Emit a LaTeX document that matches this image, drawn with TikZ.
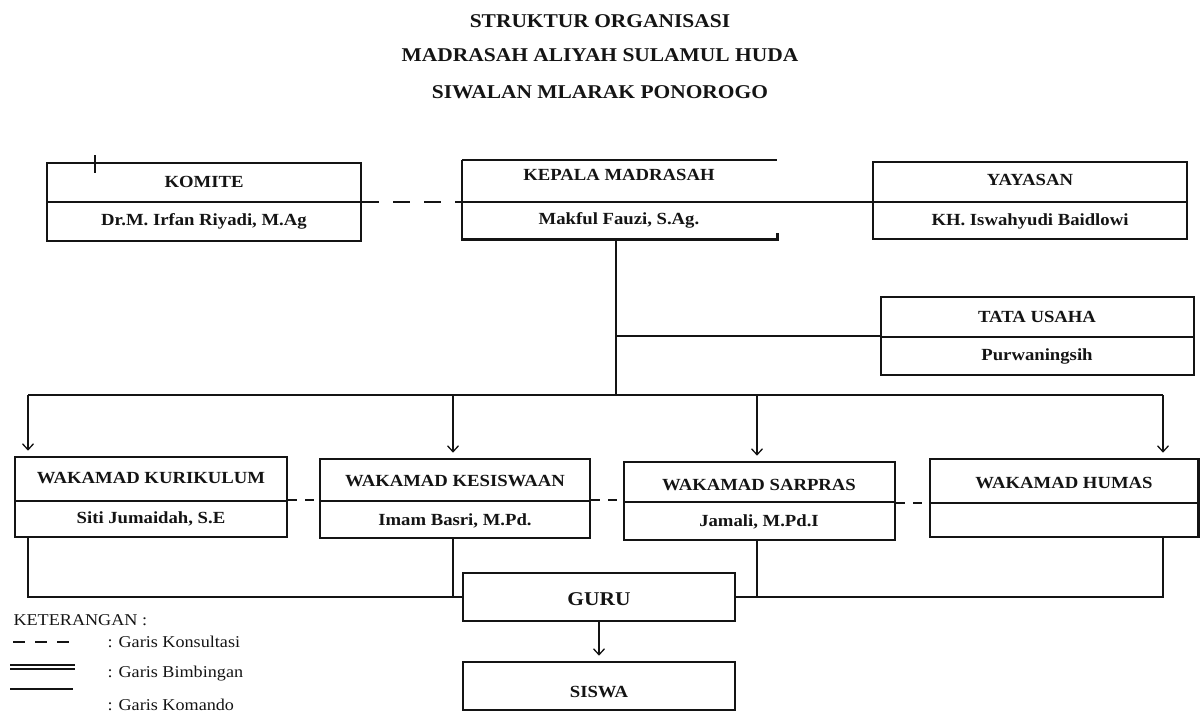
\documentclass[tikz,border=0pt]{standalone}
\usepackage{fontspec}
\setmainfont{Liberation Serif}[FakeStretch=1.1]
\usetikzlibrary{arrows.meta,positioning,fit}
\definecolor{ink}{HTML}{141414}

\begin{document}
\begin{tikzpicture}[x=1pt,y=-1pt,
  box/.style={draw=ink,line width=2.6pt,inner sep=0pt},
  link/.style={draw=ink,line width=1.3pt},
  consult/.style={link,dash pattern=on 9pt off 8pt},
  head/.style={anchor=base,text=ink,font=\fontsize{17}{20}\selectfont\bfseries},
  title/.style={anchor=base,text=ink,font=\fontsize{19.5}{22}\selectfont\bfseries},
  legend/.style={anchor=base west,text=ink,font=\fontsize{16.5}{20}\selectfont},
  >={Straight Barb[length=6pt,width=11pt]}]
  \useasboundingbox (0,0) rectangle (1200,713);
  % title
  \node[title] (t1) at (600,27) {STRUKTUR ORGANISASI};
  \node[title] (t2) at (600,61) {MADRASAH ALIYAH SULAMUL HUDA};
  \node[title] (t3) at (600,98) {SIWALAN MLARAK PONOROGO};
  % top row
  \node[box,fit={(47,163) (361,241)}] (komite) {};
  \draw[link] (47,202) -- (361,202);
  \draw[link] (95,155) -- (95,173);
  \node[head] (komiteH) at (204,187) {KOMITE};
  \node[head] (komiteN) at (204,225) {Dr.M. Irfan Riyadi, M.Ag};
  \node[inner sep=0pt,fit={(462,160) (777,239)}] (kepala) {};
  \draw[line width=1.6pt,ink] (kepala.north west) -- (kepala.north east);
  \draw[line width=2.6pt,ink] (kepala.north west) -- (kepala.south west) -- (kepala.south east) -- ++(0,-6);
  \draw[link] (462,202) -- (777,202);
  \node[head] (kepalaH) at (619,180) {KEPALA MADRASAH};
  \node[head] (kepalaN) at (619,224) {Makful Fauzi, S.Ag.};
  \node[box,fit={(873,162) (1187,239)}] (yayasan) {};
  \draw[link] (873,202) -- (1187,202);
  \node[head] (yayasanH) at (1030,185) {YAYASAN};
  \node[head] (yayasanN) at (1030,225) {KH. Iswahyudi Baidlowi};
  \draw[link,dash pattern=on 17pt off 14pt] (komite.east |- 0,202) -- (kepala.west |- 0,202);
  \draw[ink,line width=2.4pt] (kepala.east |- 0,202) -- (yayasan.west |- 0,202);
  % tata usaha
  \node[box,fit={(881,297) (1194,375)}] (tu) {};
  \draw[link] (881,337) -- (1194,337);
  \node[head] (tuH) at (1037,322) {TATA USAHA};
  \node[head] (tuN) at (1037,360) {Purwaningsih};
  \coordinate (bus) at (616,395);
  \draw[link] (kepala.south -| bus) -- (bus);
  \draw[link] (bus |- tu.west) -- (tu.west);
  % wakamad
  \node[box,fit={(15,457) (287,537)}] (kur) {};
  \draw[link] (15,501) -- (287,501);
  \node[head] (kurH) at (151,483) {WAKAMAD KURIKULUM};
  \node[head] (kurN) at (151,523) {Siti Jumaidah, S.E};
  \node[box,fit={(320,459) (590,538)}] (kes) {};
  \draw[link] (320,501) -- (590,501);
  \node[head] (kesH) at (455,486) {WAKAMAD KESISWAAN};
  \node[head] (kesN) at (455,525) {Imam Basri, M.Pd.};
  \node[box,fit={(624,462) (895,540)}] (sar) {};
  \draw[link] (624,502) -- (895,502);
  \node[head] (sarH) at (759,490) {WAKAMAD SARPRAS};
  \node[head] (sarN) at (759,526) {Jamali, M.Pd.I};
  \node[box,fit={(930,459) (1198.7,537)}] (hum) {};
  \draw[link] (930,503) -- (1199,503);
  \node[head] (humH) at (1064,488) {WAKAMAD HUMAS};
  \draw[consult] (kur.east |- 0,500) -- (kes.west |- 0,500);
  \draw[consult] (kes.east |- 0,500) -- (sar.west |- 0,500);
  \draw[consult] (sar.east |- 0,503) -- (hum.west |- 0,503);
  % command bus
  \coordinate (b1) at (28,395);
  \coordinate (b2) at (453,395);
  \coordinate (b3) at (757,395);
  \coordinate (b4) at (1163,395);
  \draw[link] (b1) -- (b4);
  \draw[link,->,shorten >=5pt] (b1) -- (b1 |- kur.north);
  \draw[link,->,shorten >=5pt] (b2) -- (b2 |- kes.north);
  \draw[link,->,shorten >=5pt] (b3) -- (b3 |- sar.north);
  \draw[link,->,shorten >=5pt] (b4) -- (b4 |- hum.north);
  % guru, siswa
  \node[box,fit={(463,573) (735,621)}] (guru) {};
  \node[head,font=\fontsize{19.5}{22}\selectfont\bfseries] (guruH) at (599,605) {GURU};
  \node[box,fit={(463,662) (735,710)}] (siswa) {};
  \node[head] (siswaH) at (599,697) {SISWA};
  \draw[link] (kur.south -| b1) -- (b1 |- guru.west) -- (guru.west);
  \draw[link] (kes.south -| b2) -- (b2 |- guru.west);
  \draw[link] (sar.south -| b3) -- (b3 |- guru.east);
  \draw[link] (hum.south -| b4) -- (b4 |- guru.east) -- (guru.east);
  \draw[link,->,shorten >=5pt] (guru.south) -- (siswa.north);
  % legend
  \node[legend] (ket) at (10,625) {KETERANGAN :};
  \draw[link,dash pattern=on 12pt off 10pt] (13,642) -- (70,642);
  \node[legend] (kons) at (104,647) {: Garis Konsultasi};
  \draw[link] (10,665) -- (75,665);
  \draw[link] (10,669) -- (75,669);
  \node[legend] (bimb) at (104,677) {: Garis Bimbingan};
  \draw[link] (10,689) -- (73,689);
  \node[legend] (koma) at (104,710) {: Garis Komando};
\end{tikzpicture}
\end{document}
